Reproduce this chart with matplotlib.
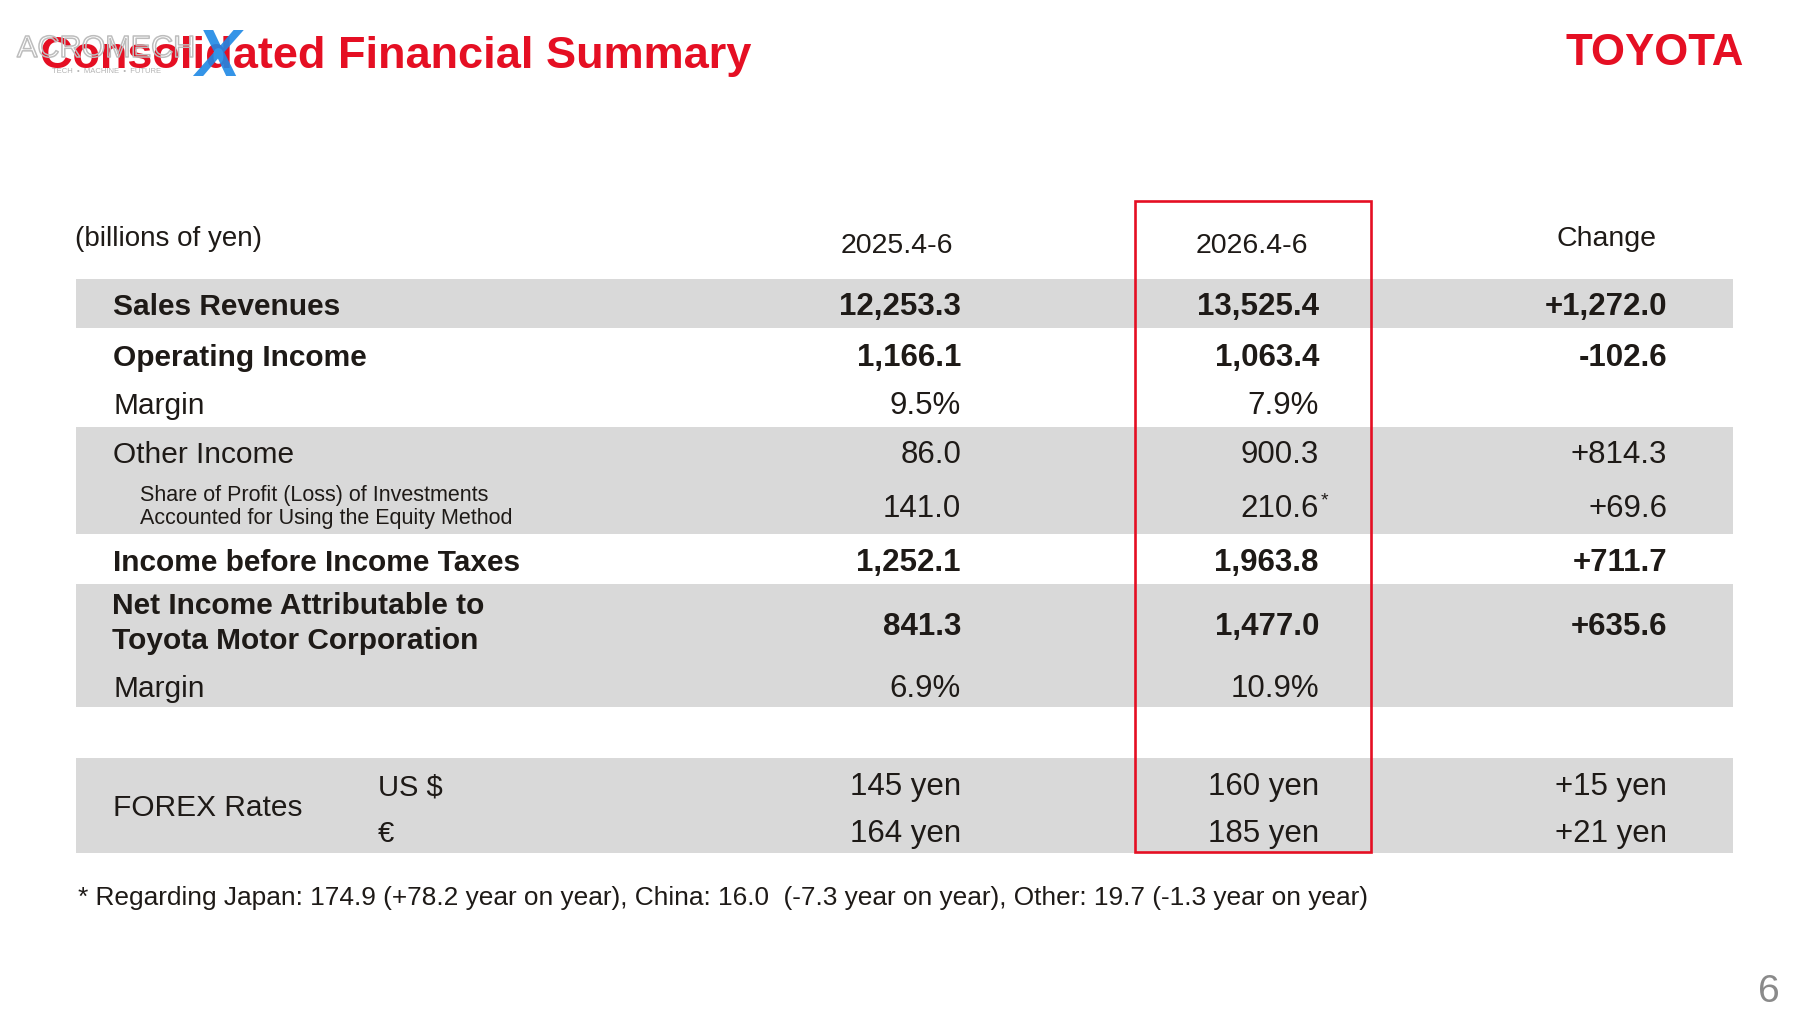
import matplotlib
matplotlib.use('Agg')
import matplotlib.pyplot as plt
import matplotlib.patheffects as pe
from matplotlib.patches import Rectangle

plt.rcParams['font.family'] = ['Liberation Sans', 'DejaVu Sans']

# table contents (billions of yen)
period_labels = ['2025.4-6', '2026.4-6']
change_label = 'Change'
row_labels = ['Sales Revenues',
              'Operating Income',
              'Margin',
              'Other Income',
              'Share of Profit (Loss) of Investments\nAccounted for Using the Equity Method',
              'Income before Income Taxes',
              'Net Income Attributable to\nToyota Motor Corporation',
              'Margin']
prev_values = ['12,253.3', '1,166.1', '9.5%', '86.0', '141.0', '1,252.1', '841.3', '6.9%']
curr_values = ['13,525.4', '1,063.4', '7.9%', '900.3', '210.6', '1,963.8', '1,477.0', '10.9%']
changes = ['+1,272.0', '-102.6', '', '+814.3', '+69.6', '+711.7', '+635.6', '']

fx_currencies = ['US $', '€']
fx_prev = ['145 yen', '164 yen']
fx_curr = ['160 yen', '185 yen']
fx_change = ['+15 yen', '+21 yen']

footnote = ('* Regarding Japan: 174.9 (+78.2 year on year), China: 16.0  (-7.3 year on year), '
            'Other: 19.7 (-1.3 year on year)')

# layout (pixels, origin top-left)
red = '#e50f23'
ink = '#1e1a17'
band = '#d9d9d9'
row_base = [315, 366, 414, 463, 517, 571, 635, 697]
# multi-line labels are anchored on the baseline of their last line
label_base = [315, 366, 414, 463, 524, 571, 649, 697]
row_bold = [True, True, False, False, False, True, True, False]
bands = [(279, 328), (427, 534), (584, 707), (758, 853)]
col_right = [961, 1319, 1667]
fx_base = [795, 842]

fig = plt.figure(figsize=(18, 10.13), dpi=100)
ax = fig.add_axes([0, 0, 1, 1])
ax.set_xlim(0, 1800)
ax.set_ylim(1013, 0)
ax.axis('off')

# title + logo
ax.text(40, 68, 'Consolidated Financial Summary', color=red, fontsize=32.5,
        fontweight='bold', va='baseline', ha='left')
ax.text(1566, 65, 'TOYOTA', color=red, fontsize=31.5, fontweight='bold',
        va='baseline', ha='left')
ax.text(1769, 1002, '6', color='#8a8a8a', fontsize=28, va='baseline', ha='center')

# watermark on top of the title
ax.text(17, 57, 'ACROMECH', color='none', fontsize=22, zorder=5,
        va='baseline', ha='left',
        path_effects=[pe.Stroke(linewidth=1.1, foreground='#bdbdbd')])
ax.text(52, 73, 'TECH  •  MACHINE  •  FUTURE', color='#a0a0a0', fontsize=5.5,
        alpha=0.8, zorder=5, va='baseline', ha='left')
ax.text(195, 76, 'X', color='#1e88e5', fontsize=48, fontweight='bold',
        fontstyle='italic', zorder=6, va='baseline', ha='left', alpha=0.9)

# gray bands
for top, bottom in bands:
    ax.add_patch(Rectangle((76, top), 1733 - 76, bottom - top,
                           facecolor=band, edgecolor='none', zorder=0))

# highlighted current-period column
ax.add_patch(Rectangle((1135, 201), 1371 - 1135, 852 - 201, facecolor='none',
                       edgecolor=red, linewidth=1.9, zorder=3))

# header
ax.text(75, 246, '(billions of yen)', color=ink, fontsize=20, va='baseline')
ax.text(897, 253, period_labels[0], color=ink, fontsize=20.5, ha='center', va='baseline')
ax.text(1252, 253, period_labels[1], color=ink, fontsize=20.5, ha='center', va='baseline')
ax.text(1607, 246, change_label, color=ink, fontsize=20.5, ha='center', va='baseline')

# rows
for i, label in enumerate(row_labels):
    weight = 'bold' if row_bold[i] else 'normal'
    if '\n' in label and not row_bold[i]:
        ax.text(140, label_base[i], label, color=ink, fontsize=15.5,
                va='baseline', linespacing=1.15)
    elif '\n' in label:
        ax.text(112, label_base[i], label, color=ink, fontsize=21.5,
                fontweight=weight, va='baseline', linespacing=1.32)
    else:
        ax.text(113, label_base[i], label, color=ink, fontsize=21.5,
                fontweight=weight, va='baseline')
    for x, val in zip(col_right, [prev_values[i], curr_values[i], changes[i]]):
        ax.text(x, row_base[i], val, color=ink, fontsize=22.5, fontweight=weight,
                ha='right', va='baseline')

# superscript marker on equity method value
ax.text(1321, 505, '*', color=ink, fontsize=14, ha='left', va='baseline')

# forex block
ax.text(113, 816, 'FOREX Rates', color=ink, fontsize=21.5, va='baseline')
for j, cur in enumerate(fx_currencies):
    ax.text(378, fx_base[j], cur, color=ink, fontsize=21, va='baseline')
    for x, val in zip(col_right, [fx_prev[j], fx_curr[j], fx_change[j]]):
        ax.text(x, fx_base[j], val, color=ink, fontsize=22.5, ha='right', va='baseline')

ax.text(78, 905, footnote, color=ink, fontsize=18.9, va='baseline')

fig.savefig('out.png', dpi=100, facecolor='white')
